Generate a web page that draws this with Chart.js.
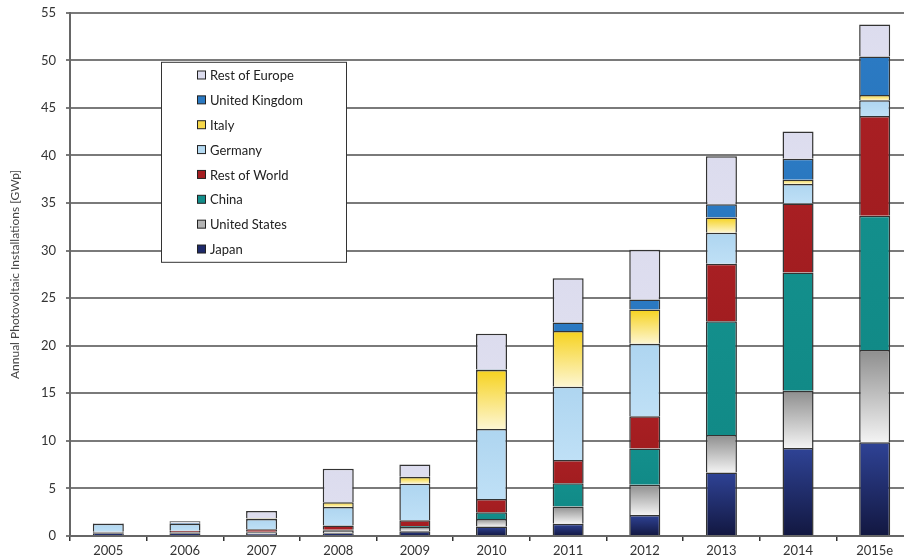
<!DOCTYPE html>
<html>
<head>
<meta charset="utf-8">
<title>Annual Photovoltaic Installations</title>
<script src="https://cdn.jsdelivr.net/npm/chart.js@4/dist/chart.umd.min.js"></script>
<style>
  html, body { margin: 0; padding: 0; background: #fff; overflow: hidden; }
  #pvChart { display: block; margin-top: -5px; }
</style>
</head>
<body>
<canvas id="pvChart" width="913" height="564"></canvas>
<script>
// --- annual installations per market, GWp ---
const years = ['2005', '2006', '2007', '2008', '2009', '2010', '2011', '2012', '2013', '2014', '2015e'];
const japan = [0.3, 0.3, 0.2, 0.3, 0.5, 1.0, 1.3, 2.2, 6.67, 9.26, 9.86];
const unitedStates = [0.1, 0.1, 0.2, 0.3, 0.45, 0.8, 1.8, 3.2, 3.95, 6.0, 9.7];
const china = [0, 0, 0.05, 0.05, 0.1, 0.7, 2.45, 3.8, 11.95, 12.45, 14.1];
const restOfWorld = [0.05, 0.15, 0.25, 0.45, 0.6, 1.4, 2.45, 3.4, 6.05, 7.25, 10.5];
const germany = [0.85, 0.75, 1.1, 1.95, 3.85, 7.35, 7.7, 7.6, 3.25, 2.05, 1.65];
const italy = [0, 0, 0.05, 0.5, 0.7, 6.2, 5.85, 3.6, 1.6, 0.45, 0.55];
const unitedKingdom = [0, 0.1, 0.02, 0.02, 0.02, 0.05, 0.9, 1.05, 1.4, 2.2, 4.05];
const restOfEurope = [0.05, 0.15, 0.75, 3.5, 1.3, 3.75, 4.65, 5.25, 5.05, 2.85, 3.35];
const yTicks = [0, 5, 10, 15, 20, 25, 30, 35, 40, 45, 50, 55];

const FONT = 'Lato, "Open Sans", sans-serif';

// vertical gradient spanning a single stacked segment
function shade(top, bottom) {
    return function(ctx) {
        const chart = ctx.chart;
        if (ctx.type !== 'data' || !chart.chartArea) return bottom;
        const y = chart.scales.y;
        let base = 0;
        for (let i = 0; i < ctx.datasetIndex; i++) base += chart.data.datasets[i].data[ctx.dataIndex] || 0;
        const y0 = y.getPixelForValue(base);
        const y1 = y.getPixelForValue(base + (ctx.raw || 0));
        if (!isFinite(y0) || !isFinite(y1) || y0 === y1) return bottom;
        const g = chart.ctx.createLinearGradient(0, y1, 0, y0);
        g.addColorStop(0, top);
        g.addColorStop(1, bottom);
        return g;
    };
}

function series(label, data, top, bottom, swatch) {
    return {
        label: label,
        data: data,
        backgroundColor: shade(top, bottom),
        swatch: swatch,
        borderColor: '#333',
        borderWidth: function(ctx) { return ctx.raw ? 1.5 : 0; },
        barPercentage: 0.405,
        categoryPercentage: 1
    };
}

// boxed legend sitting inside the plot, top entry = top of the stack
const boxLegend = {
    id: 'boxLegend',
    afterDraw(chart) {
        const c = chart.ctx;
        const area = chart.chartArea;
        const left = area.left + 91, top = area.top + 49, w = 185, h = 200;
        c.save();
        c.fillStyle = '#fff';
        c.fillRect(left, top, w, h);
        c.strokeStyle = '#333';
        c.lineWidth = 1;
        c.strokeRect(left + 0.5, top + 0.5, w, h);
        c.font = '13px ' + FONT;
        c.textBaseline = 'middle';
        const sets = chart.data.datasets.slice().reverse();
        sets.forEach(function(ds, i) {
            const cy = top + 13.7 + i * 24.86;
            c.fillStyle = ds.swatch;
            c.fillRect(left + 36.5, cy - 4.5, 8, 8);
            c.strokeStyle = '#222';
            c.strokeRect(left + 36.5, cy - 4.5, 8, 8);
            c.fillStyle = '#222';
            c.fillText(ds.label, left + 49, cy + 0.5);
        });
        c.restore();
    }
};

new Chart(document.getElementById('pvChart').getContext('2d'), {
    type: 'bar',
    data: {
        labels: years,
        datasets: [
            series('Japan', japan, '#2f4396', '#121740', '#1e2a6a'),
            series('United States', unitedStates, '#8e8e8e', '#f3f3f3', '#b4b4b4'),
            series('China', china, '#138f8c', '#118a87', '#128d8a'),
            series('Rest of World', restOfWorld, '#a81f23', '#a21d20', '#a51e21'),
            series('Germany', germany, '#aed5f0', '#bfe0f6', '#b5daf2'),
            series('Italy', italy, '#f6d21e', '#fdf6d2', '#f7d84a'),
            series('United Kingdom', unitedKingdom, '#2b7ac3', '#2a78c0', '#2a79c2'),
            series('Rest of Europe', restOfEurope, '#dcdcee', '#dedeef', '#dcdcee')
        ]
    },
    options: {
        responsive: false, animation: false,
        layout: { padding: { top: 8, right: 0, bottom: 0, left: 0 } },
        plugins: { legend: { display: false }, tooltip: { enabled: false } },
        scales: {
            x: {
                stacked: true,
                grid: { drawOnChartArea: false, drawTicks: true, tickLength: 5, color: '#333', lineWidth: 1.5, offset: true },
                border: { color: '#666', width: 2 },
                ticks: { color: '#333', font: { family: FONT, size: 13 }, padding: 2, maxRotation: 0 },
                afterFit: function(scale) { scale.height = 23; }
            },
            y: {
                stacked: true, min: 0, max: 55,
                afterBuildTicks: function(scale) { scale.ticks = yTicks.map(function(v) { return { value: v }; }); },
                grid: { color: '#7a7a7a', lineWidth: 2, tickLength: 4 },
                border: { color: '#666', width: 2 },
                ticks: { color: '#333', font: { family: FONT, size: 13 }, padding: 10 },
                title: {
                    display: true, text: 'Annual Photovoltaic Installations [GWp]',
                    color: '#444', font: { family: FONT, size: 12 }, padding: { top: 8, bottom: 0 }
                },
                afterFit: function(scale) { scale.width = 70; }
            }
        }
    },
    plugins: [boxLegend]
});
</script>
</body>
</html>
